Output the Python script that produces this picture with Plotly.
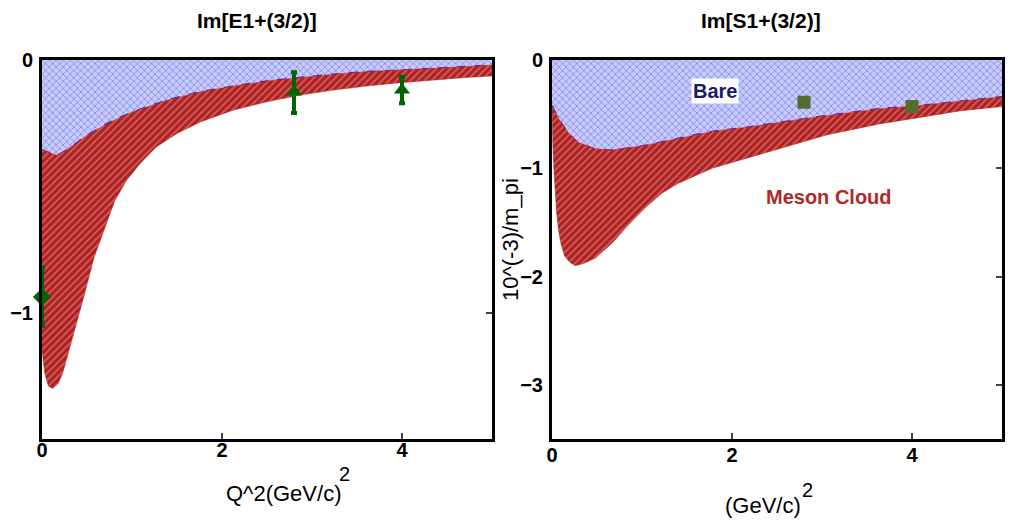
import plotly.graph_objects as go

# ---------------- data ----------------
# Left panel: Im[E1+(3/2)]
e_bare_x = [0.0, 0.03, 0.16, 0.27, 0.50, 0.76, 1.01, 1.39, 1.76, 2.13, 2.50, 2.87, 3.24, 3.61, 3.98, 4.34, 4.72, 5.0]
e_bare_y = [-0.355, -0.36, -0.377, -0.357, -0.298, -0.245, -0.205, -0.159, -0.126, -0.103, -0.083, -0.069, -0.056, -0.046, -0.040, -0.033, -0.026, -0.020]
e_tot_x = [0.0, 0.03, 0.07, 0.12, 0.18, 0.23, 0.29, 0.35, 0.47, 0.58, 0.70, 0.81, 0.94, 1.09, 1.27, 1.50, 1.76, 2.13, 2.50, 2.87, 3.24, 3.61, 3.98, 4.35, 4.72, 5.0]
e_tot_y = [-1.15, -1.24, -1.29, -1.30, -1.28, -1.24, -1.165, -1.08, -0.93, -0.78, -0.66, -0.556, -0.476, -0.410, -0.344, -0.291, -0.245, -0.198, -0.165, -0.139, -0.119, -0.103, -0.090, -0.079, -0.069, -0.063]
e_data_x = [0.0, 2.8, 4.0]
e_data_y = [-0.938, -0.127, -0.119]
e_err_up = [0.117, 0.079, 0.052]
e_err_dn = [0.114, 0.083, 0.052]

# Right panel: Im[S1+(3/2)]
s_bare_x = [0.0, 0.08, 0.18, 0.29, 0.48, 0.67, 1.03, 1.42, 1.78, 2.17, 2.90, 3.64, 4.09, 4.53, 5.0]
s_bare_y = [-0.42, -0.55, -0.67, -0.76, -0.82, -0.83, -0.79, -0.72, -0.66, -0.62, -0.53, -0.45, -0.42, -0.38, -0.34]
s_tot_x = [0.0, 0.01, 0.02, 0.03, 0.05, 0.07, 0.10, 0.14, 0.20, 0.26, 0.35, 0.48, 0.67, 0.84, 1.03, 1.22, 1.40, 1.78, 2.14, 2.48, 3.06, 3.64, 4.09, 4.53, 5.0]
s_tot_y = [-0.45, -0.8, -1.0, -1.19, -1.4, -1.56, -1.70, -1.81, -1.87, -1.90, -1.88, -1.83, -1.69, -1.53, -1.37, -1.23, -1.14, -1.00, -0.91, -0.83, -0.69, -0.59, -0.53, -0.47, -0.43]
s_data_x = [2.8, 4.0]
s_data_y = [-0.39, -0.43]

x_ticks = [0, 2, 4]
e_y_ticks = [0, -1]
s_y_ticks = [0, -1, -2, -3]

FONT = "Liberation Sans, Arial, Helvetica, sans-serif"
BLUE_BG = "#c9ccfa"
BLUE_FG = "#3c44e6"
RED_BG = "#b02222"
RED_FG = "#f0a8a8"
GREEN = "#006400"

fig = go.Figure()

def add_panel(bx, by, tx, ty, xa, ya):
    # bare region: curve up to zero
    fig.add_trace(go.Scatter(
        x=bx, y=by, mode="lines", fill="tozeroy",
        line=dict(color="#2a2ae0", width=1.5, dash="dash", shape="spline", smoothing=0.6),
        fillcolor=BLUE_BG,
        fillpattern=dict(shape="x", fgcolor=BLUE_FG, bgcolor=BLUE_BG, size=5, solidity=0.3),
        xaxis=xa, yaxis=ya, showlegend=False, hoverinfo="skip"))
    # meson cloud region: between bare and total curves
    px = list(bx) + list(tx)[::-1]
    py = list(by) + list(ty)[::-1]
    fig.add_trace(go.Scatter(
        x=px, y=py, mode="lines", fill="toself",
        line=dict(color=RED_BG, width=0.5),
        fillcolor=RED_BG,
        fillpattern=dict(shape="/", fgcolor=RED_FG, bgcolor=RED_BG, size=5, solidity=0.3),
        xaxis=xa, yaxis=ya, showlegend=False, hoverinfo="skip"))

add_panel(e_bare_x, e_bare_y, e_tot_x, e_tot_y, "x", "y")
add_panel(s_bare_x, s_bare_y, s_tot_x, s_tot_y, "x2", "y2")

fig.add_trace(go.Scatter(
    x=e_data_x, y=e_data_y, mode="markers",
    marker=dict(symbol=["diamond", "triangle-up", "triangle-up"], size=14, color=GREEN),
    error_y=dict(type="data", array=e_err_up, arrayminus=e_err_dn, color=GREEN, thickness=4, width=3),
    cliponaxis=False, xaxis="x", yaxis="y", showlegend=False))

fig.add_trace(go.Scatter(
    x=s_data_x, y=s_data_y, mode="markers",
    marker=dict(symbol="square", size=13, color="#556b2f"),
    xaxis="x2", yaxis="y2", showlegend=False))

Y0, Y1 = (520 - 439) / 520, (520 - 60) / 520
LD = [42 / 1010, 492 / 1010]
RD = [552 / 1010, 1002 / 1010]

tickfont = dict(family=FONT, size=20, color="black", weight="bold")
xcommon = dict(range=[0, 5], tickvals=x_ticks, ticks="inside", ticklen=6, tickwidth=2,
               showline=True, linewidth=3, linecolor="black", mirror=True, automargin=False,
               showgrid=False, zeroline=False, tickfont=tickfont)
ycommon = dict(ticks="", showline=True, linewidth=3, linecolor="black", mirror=True, automargin=False,
               showgrid=False, zeroline=False, tickfont=tickfont, ticklabelstandoff=2)

fig.update_layout(
    width=1010, height=520,
    margin=dict(l=0, r=0, t=0, b=0),
    paper_bgcolor="white", plot_bgcolor="white",
    xaxis=dict(domain=LD, anchor="y", ticklabelstandoff=-9, **xcommon),
    yaxis=dict(domain=[Y0, Y1], anchor="x", range=[-1.5, 0], tickvals=e_y_ticks, **ycommon),
    xaxis2=dict(domain=RD, anchor="y2", ticklabelstandoff=-4, **xcommon),
    yaxis2=dict(domain=[Y0, Y1], anchor="x2", range=[-3.5, 0], tickvals=s_y_ticks, **ycommon),
    yaxis3=dict(overlaying="y", side="right", anchor="x", range=[-1.5, 0], tickvals=e_y_ticks,
                ticks="inside", ticklen=6, tickwidth=2, showticklabels=False, showgrid=False,
                zeroline=False, showline=False, automargin=False),
    yaxis4=dict(overlaying="y2", side="right", anchor="x2", range=[-3.5, 0], tickvals=s_y_ticks,
                ticks="inside", ticklen=6, tickwidth=2, showticklabels=False, showgrid=False,
                zeroline=False, showline=False, automargin=False),
)
# dummy traces so overlay axes render
fig.add_trace(go.Scatter(x=[None], y=[None], xaxis="x", yaxis="y3", showlegend=False))
fig.add_trace(go.Scatter(x=[None], y=[None], xaxis="x2", yaxis="y4", showlegend=False))

def ann(text, x, y, size, color="black", bold=False, angle=0, bg=None, xanchor="center"):
    fig.add_annotation(text=text, x=x / 1010, y=(520 - y) / 520, xref="paper", yref="paper",
                       showarrow=False, textangle=angle, bgcolor=bg,
                       font=dict(family=FONT, size=size, color=color, weight="bold" if bold else "normal"),
                       xanchor=xanchor, yanchor="middle")

ann("Im[E1+(3/2)]", 257, 21, 21, bold=True)
ann("Im[S1+(3/2)]", 761, 21, 21, bold=True)
# x-axis titles: main text + large superscript
ann("Q^2(GeV/c)", 343, 493, 22, xanchor="right")
ann("2", 337, 474, 20, xanchor="left")
ann("(GeV/c)", 803, 505, 22, xanchor="right")
ann("2", 800, 490, 20, xanchor="left")
ann("10^(-3)/m_pi", 510, 240, 22, angle=-90)
ann("Bare", 715, 91, 20, color="#1a1a6e", bold=True, bg="white")
ann("Meson Cloud", 829, 197, 20, color="#b02828", bold=True)

fig.write_html("out.html")
